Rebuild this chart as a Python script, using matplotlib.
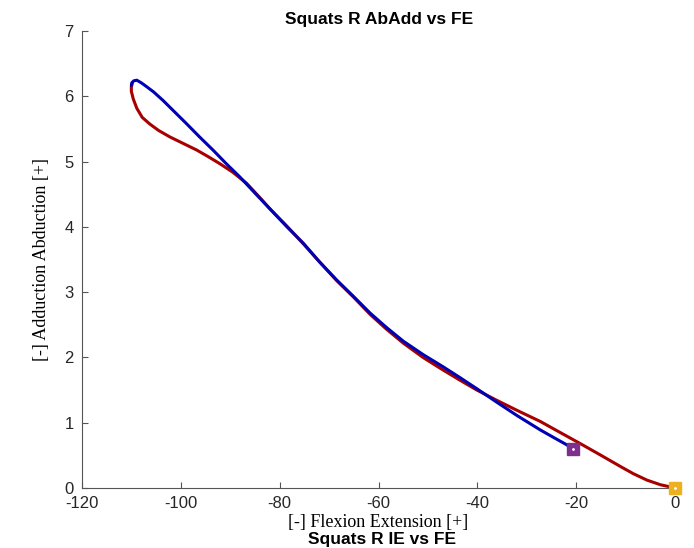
import numpy as np
import matplotlib
matplotlib.use("Agg")
import matplotlib.pyplot as plt

plt.rcParams["axes.unicode_minus"] = False

# red trace: from (0, 0) up to the top-left turn
red_x = [0, -3, -5.7, -8.5, -11.1, -15, -19.2, -23.5, -27.3, -32, -36, -40.1,
         -43.5, -47, -51, -55, -58.5, -61.7, -65, -68.5, -72, -75.2,
         -78.5, -82, -84, -86.7, -89.5, -92.1, -94.5, -96.8, -99.5, -102.2,
         -104.5, -106.3, -107.8, -108.9, -109.6, -110.0, -110.0, -109.8]
red_y = [0, 0.05, 0.12, 0.22, 0.33, 0.50, 0.68, 0.86, 1.02, 1.19, 1.34, 1.50,
         1.65, 1.81, 2.00, 2.22, 2.44, 2.66, 2.92, 3.18, 3.47, 3.74,
         4.01, 4.28, 4.45, 4.67, 4.84, 4.97, 5.08, 5.18, 5.28, 5.38,
         5.48, 5.58, 5.68, 5.82, 5.96, 6.08, 6.15, 6.20]

# blue trace: from the purple marker up to the top-left turn
blue_x = [-21, -21.9, -24.5, -27.3, -32, -36, -40.1, -43.5, -47, -51,
          -55, -58.4, -61.7, -65, -68.5, -72, -75.2, -78.5, -82, -84.5,
          -88.1, -90.8, -93.5, -96.2, -98.8, -101.2, -103.6, -105.5, -106.9,
          -108.0, -108.9, -109.5, -109.9, -110.0]
blue_y = [0.61, 0.66, 0.77, 0.89, 1.11, 1.31, 1.52, 1.69, 1.86, 2.045,
          2.25, 2.46, 2.68, 2.93, 3.19, 3.47, 3.75, 4.00, 4.28, 4.48,
          4.77, 4.97, 5.18, 5.38, 5.58, 5.76, 5.94, 6.07, 6.15,
          6.21, 6.25, 6.24, 6.21, 6.17]

start_red = (0, 0)
start_blue = (-20.7, 0.6)

fig = plt.figure(figsize=(6.94, 5.48), dpi=100)
ax = fig.add_axes([0.118, 0.1095, 0.855, 0.8335])

ax.plot(red_x, red_y, color="#A80000", lw=2.2, solid_joinstyle="round",
        solid_capstyle="round")
ax.plot(blue_x, blue_y, color="#0000B4", lw=2.2, solid_joinstyle="round",
        solid_capstyle="round")

ax.plot(*start_blue, marker="s", ms=9, color="#7E2F8E", clip_on=False, zorder=5)
ax.plot(*start_blue, marker=".", ms=2, color="white", clip_on=False, zorder=6)
ax.plot(*start_red, marker="s", ms=9, color="#EDB120", clip_on=False, zorder=5)
ax.plot(*start_red, marker=".", ms=2, color="white", clip_on=False, zorder=6)

ax.set_xlim(-120, 0)
ax.set_ylim(0, 7)
ax.set_xticks(np.arange(-120, 1, 20))
ax.set_yticks(np.arange(0, 8, 1))
ax.spines["top"].set_visible(False)
ax.spines["right"].set_visible(False)
for s in ("left", "bottom"):
    ax.spines[s].set_color("#555555")
    ax.spines[s].set_linewidth(0.8)
ax.tick_params(direction="in", length=4, width=0.8, color="#555555",
               labelsize=12, labelcolor="#262626", pad=6)
for lbl in ax.get_xticklabels() + ax.get_yticklabels():
    lbl.set_family("Liberation Sans")

ax.set_xlabel("[-] Flexion Extension [+]", family="Liberation Serif",
              fontsize=13, labelpad=2)
ax.set_ylabel("[-] Adduction Abduction [+]", family="Liberation Serif",
              fontsize=13, labelpad=10)
ax.set_title("Squats R AbAdd vs FE", family="Liberation Sans",
             fontweight="bold", fontsize=12.5, pad=5)

# title of the next subplot, at the very bottom edge
fig.text(0.55, 0.001, "Squats R IE vs FE", family="Liberation Sans",
         fontweight="bold", fontsize=12.5, ha="center", va="bottom")

fig.savefig("out.png", dpi=100)
